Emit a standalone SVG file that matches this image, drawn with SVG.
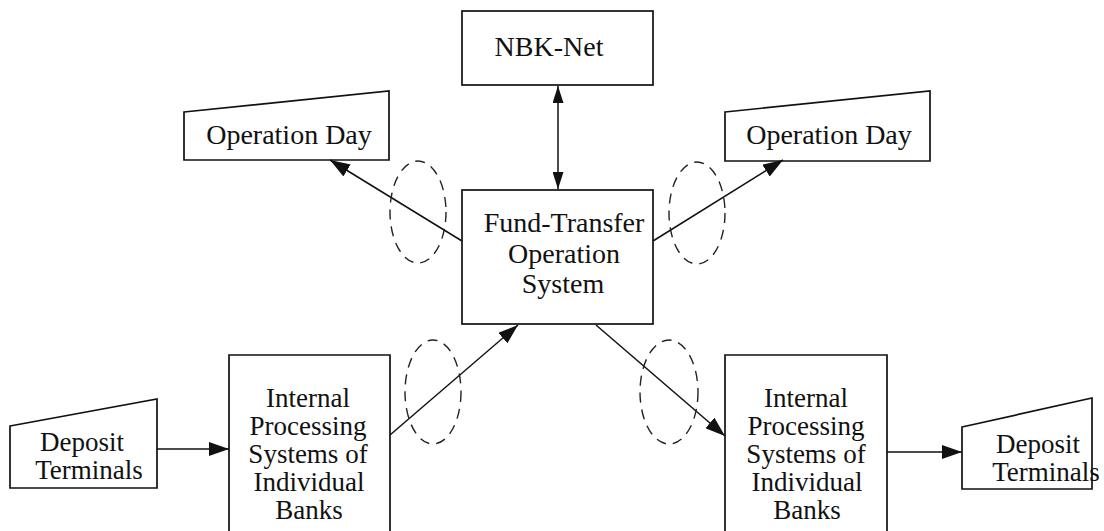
<svg xmlns="http://www.w3.org/2000/svg" width="1104" height="531" viewBox="0 0 1104 531">
<style>
.box{fill:#fff;stroke:#111;stroke-width:1.7}
.t{font-family:"Liberation Serif","Times New Roman",serif;font-size:28px;fill:#111;text-anchor:middle}
.s{font-size:27px}
.c{stroke:#111;stroke-width:1.5;fill:none}
.e{fill:none;stroke:#222;stroke-width:1.4;stroke-dasharray:10 7}
</style>
<defs>
<marker id="ah" viewBox="0 0 20 14" refX="20" refY="7" markerWidth="20" markerHeight="14" markerUnits="userSpaceOnUse" orient="auto-start-reverse">
<path d="M0,0 L20,7 L0,14 z" fill="#111"/>
</marker>
<marker id="ahs" viewBox="0 0 17 11" refX="17" refY="5.5" markerWidth="17" markerHeight="11" markerUnits="userSpaceOnUse" orient="auto-start-reverse">
<path d="M0,0 L17,5.5 L0,11 z" fill="#111"/>
</marker>
</defs>
<rect width="1104" height="531" fill="#fff"/>
<g id="nbk-net">
<rect class="box" x="462" y="11" width="191" height="74"/>
<text class="t" x="549" y="56">NBK-Net</text>
</g>
<g id="operation-day-left">
<path class="box" d="M184,112 L389,91 L389,160 L184,160 Z"/>
<text class="t" x="289" y="144">Operation Day</text>
</g>
<g id="operation-day-right">
<path class="box" d="M725,112 L930,91 L930,161 L725,161 Z"/>
<text class="t" x="829" y="144">Operation Day</text>
</g>
<g id="fund-transfer">
<rect class="box" x="462" y="190" width="191" height="134"/>
<text class="t" x="564" y="232">Fund-Transfer</text>
<text class="t" x="564" y="263">Operation</text>
<text class="t" x="563" y="293">System</text>
</g>
<g id="internal-left">
<path class="box" d="M229,533 L229,355 L390,355 L390,533"/>
<text class="t s" x="308" y="407">Internal</text>
<text class="t s" x="308" y="435">Processing</text>
<text class="t s" x="308" y="463">Systems of</text>
<text class="t s" x="309" y="491">Individual</text>
<text class="t s" x="309" y="519">Banks</text>
</g>
<g id="internal-right">
<path class="box" d="M725,533 L725,355 L887,355 L887,533"/>
<text class="t s" x="806" y="407">Internal</text>
<text class="t s" x="806" y="435">Processing</text>
<text class="t s" x="806" y="463">Systems of</text>
<text class="t s" x="807" y="491">Individual</text>
<text class="t s" x="807" y="519">Banks</text>
</g>
<g id="deposit-left">
<path class="box" d="M10,426 L157,399 L157,488 L10,488 Z"/>
<text class="t s" x="82" y="451">Deposit</text>
<text class="t s" x="89" y="479">Terminals</text>
</g>
<g id="deposit-right">
<path class="box" d="M962,427 L1092,398 L1092,489 L962,489 Z"/>
<text class="t s" x="1038" y="453">Deposit</text>
<text class="t s" x="1046" y="481">Terminals</text>
</g>
<g id="connectors">
<line class="c" x1="558" y1="86" x2="558" y2="189" marker-start="url(#ahs)" marker-end="url(#ahs)"/>
<line class="c" x1="462" y1="241" x2="330" y2="160" marker-end="url(#ah)"/>
<line class="c" x1="653" y1="241" x2="783" y2="160" marker-end="url(#ah)"/>
<line class="c" x1="390" y1="435" x2="518" y2="325" marker-end="url(#ah)"/>
<line class="c" x1="596" y1="325" x2="725" y2="436" marker-end="url(#ah)"/>
<line class="c" x1="157" y1="449" x2="229" y2="449" marker-end="url(#ah)"/>
<line class="c" x1="887" y1="452" x2="962" y2="452" marker-end="url(#ah)"/>
<ellipse class="e" cx="418" cy="212" rx="28" ry="51"/>
<ellipse class="e" cx="697" cy="213" rx="28" ry="51"/>
<ellipse class="e" cx="433" cy="392" rx="28" ry="52"/>
<ellipse class="e" cx="669" cy="392" rx="29" ry="52"/>
</g>
</svg>
